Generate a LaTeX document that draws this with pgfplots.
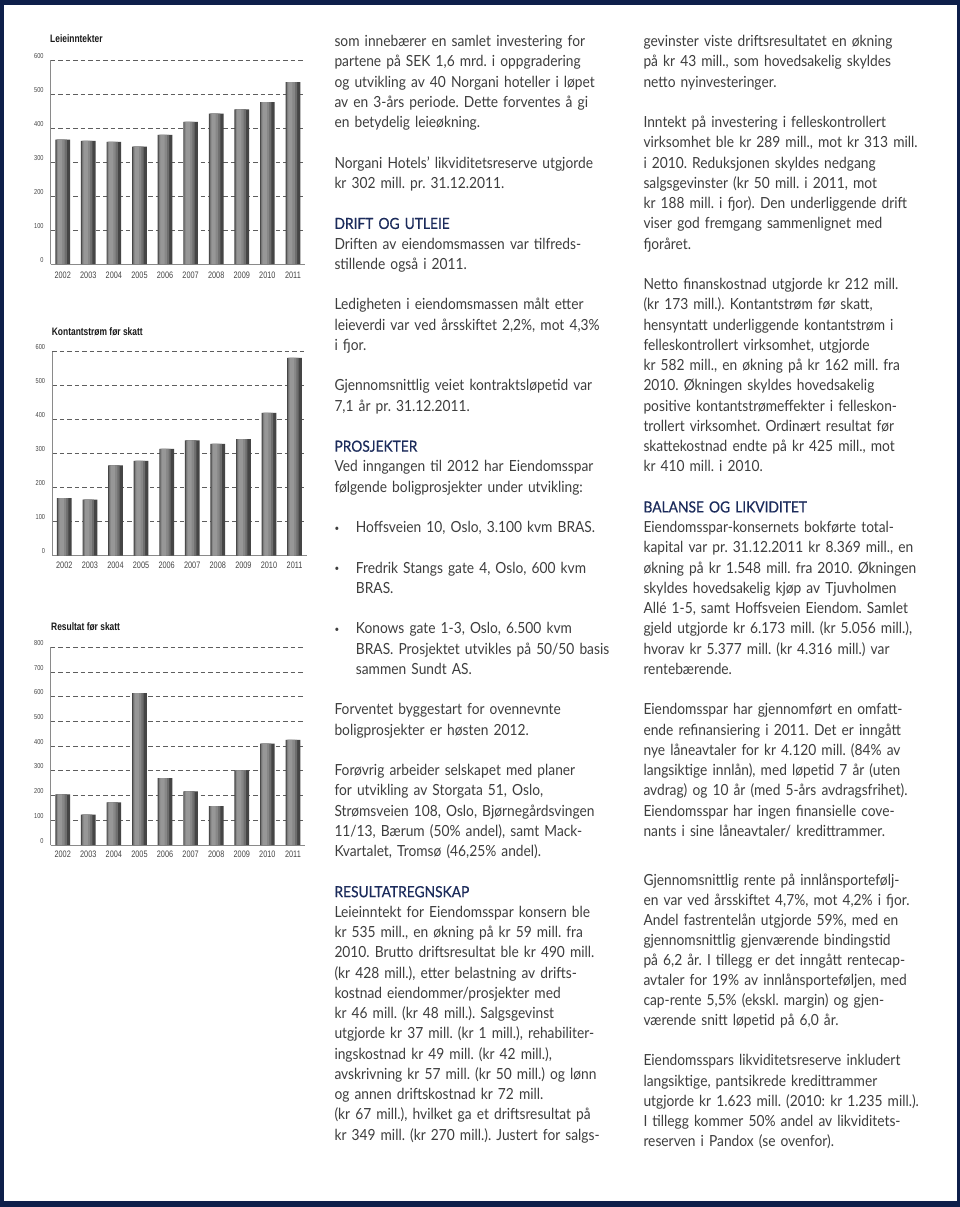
\documentclass[border=0pt]{standalone}
\usepackage{fontspec}
\usepackage{pgfplots}
\usepackage{pgfplotstable}
\pgfplotsset{compat=1.18}
\setmainfont{Lato}[FakeStretch=0.9]
\newfontfamily\chartfont{Liberation Sans}[FakeStretch=0.78]
\newfontfamily\headfont{Lato}[FakeStretch=0.9,FakeBold=0.5]
\frenchspacing
\definecolor{navy}{HTML}{0E1F4A}
\definecolor{txt}{HTML}{3E3E3E}
\definecolor{headc}{HTML}{1B2B5B}
\definecolor{gridc}{HTML}{5E5E5E}
\definecolor{axisc}{HTML}{8A8A8A}
\definecolor{lbl}{HTML}{454545}
\definecolor{bar0}{HTML}{454545}
\definecolor{bar1}{HTML}{6E6E6E}
\definecolor{bar2}{HTML}{878787}
\definecolor{bar3}{HTML}{979797}
\newcommand\bodyfont{\fontsize{15.3}{20.25}\selectfont\color{txt}}
\newcommand\hd[1]{{\headfont\color{headc}#1}}
\newcommand\bul{\makebox[21.4pt][l]{\raisebox{1.5pt}{\fontsize{9}{9}\selectfont •}}}

\pgfplotstableread{
x y
0 366
1 362
2 359
3 345
4 380
5 418
6 442
7 455
8 476
9 535
}\leie
\pgfplotstableread{
x y
0 169
1 165
2 266
3 279
4 314
5 339
6 329
7 343
8 420
9 582
}\kontant
\pgfplotstableread{
x y
0 205
1 123
2 173
3 615
4 271
5 217
6 157
7 302
8 410
9 425
}\resultat

\pgfplotsset{
  mybar/.style={
    scale only axis, width=254.3pt,
    xmin=-0.47, xmax=9.47, ymin=0,
    axis x line*=bottom, axis y line*=left,
    axis line style={draw=axisc, line width=0.7pt},
    ymajorgrids,
    grid style={draw=gridc, line width=0.8pt, dash pattern=on 4.5pt off 3pt},
    major tick length=0pt,
    xtick={0,1,2,3,4,5,6,7,8,9},
    xticklabels={2002,2003,2004,2005,2006,2007,2008,2009,2010,2011},
    tick label style={inner sep=0pt},
    xticklabel style={font=\chartfont\fontsize{9.4}{10}\selectfont, text=lbl, anchor=base},
    yticklabel style={font=\chartfont\fontsize{7.2}{8}\selectfont, text=lbl, anchor=base east, xshift=-7pt, yshift=2pt},
    /pgf/number format/assume math mode=true,
  },
  b0/.style={ybar, bar width=14.7pt, bar shift=0pt, fill=bar0, draw=none},
  b1/.style={ybar, bar width=10.5pt, bar shift=-1.2pt, fill=bar1, draw=none},
  b2/.style={ybar, bar width=7.5pt, bar shift=-1.9pt, fill=bar2, draw=none},
  b3/.style={ybar, bar width=4.2pt, bar shift=-2.6pt, fill=bar3, draw=none},
}
\newcommand\shadedbars[1]{%
  \addplot[b0] table[x=x,y=y]{#1};
  \addplot[b1] table[x=x,y=y]{#1};
  \addplot[b2] table[x=x,y=y]{#1};
  \addplot[b3] table[x=x,y=y]{#1};
}
\begin{document}
\begin{tikzpicture}[x=1pt,y=1pt]
\useasboundingbox (0,0) rectangle (960,-1207);
\fill[white] (0,0) rectangle (960,-1207);

% Chart 1
\begin{axis}[mybar, at={(50.7pt,-264pt)}, anchor=south west, height=204pt, ymax=600,
  ytick={0,100,200,300,400,500,600}, xticklabel style={yshift=-14.5pt}]
\shadedbars{\leie}
\end{axis}
\node[anchor=base west, inner sep=0, font=\chartfont\bfseries\fontsize{10.8}{12}\selectfont, text=black!90] at (50,-42.7) {Leieinntekter};

% Chart 2
\begin{axis}[mybar, at={(52.3pt,-555.7pt)}, anchor=south west, height=204pt, ymax=600,
  ytick={0,100,200,300,400,500,600}, xticklabel style={yshift=-12.8pt}]
\shadedbars{\kontant}
\end{axis}
\node[anchor=base west, inner sep=0, font=\chartfont\bfseries\fontsize{10.8}{12}\selectfont, text=black!90] at (51.7,-335) {Kontantstrøm før skatt};

% Chart 3
\begin{axis}[mybar, at={(50.7pt,-845pt)}, anchor=south west, height=197.7pt, ymax=800,
  ytick={0,100,200,300,400,500,600,700,800}, xticklabel style={yshift=-12.8pt}]
\shadedbars{\resultat}
\end{axis}
\node[anchor=base west, inner sep=0, font=\chartfont\bfseries\fontsize{10.8}{12}\selectfont, text=black!90] at (51,-630.7) {Resultat før skatt};

% Column 2
\node[anchor=base west, inner sep=0, text width=318pt, align=left, font=\bodyfont] at (334.3,-46.7) {%
som innebærer en samlet investering for\\
partene på SEK 1,6 mrd. i oppgradering\\
og utvikling av 40 Norgani hoteller i løpet\\
av en 3-års periode. Dette forventes å gi\\
en betydelig leieøkning.\\[20.25pt]
Norgani Hotels’ likviditetsreserve utgjorde\\
kr 302 mill. pr. 31.12.2011.\\[20.25pt]
\hd{DRIFT OG UTLEIE}\\
Driften av eiendomsmassen var tilfreds-\\
stillende også i 2011.\\[20.25pt]
Ledigheten i eiendomsmassen målt etter\\
leieverdi var ved årsskiftet 2,2\%, mot 4,3\%\\
i fjor.\\[20.25pt]
Gjennomsnittlig veiet kontraktsløpetid var\\
7,1 år pr. 31.12.2011.\\[20.25pt]
\hd{PROSJEKTER}\\
Ved inngangen til 2012 har Eiendomsspar\\
følgende boligprosjekter under utvikling:\\[20.25pt]
\bul Hoffsveien 10, Oslo, 3.100 kvm BRAS.\\[20.25pt]
\bul Fredrik Stangs gate 4, Oslo, 600 kvm\\
\hspace*{21.4pt}BRAS.\\[20.25pt]
\bul Konows gate 1-3, Oslo, 6.500 kvm\\
\hspace*{21.4pt}BRAS. Prosjektet utvikles på 50/50 basis\\
\hspace*{21.4pt}sammen Sundt AS.\\[20.25pt]
Forventet byggestart for ovennevnte\\
boligprosjekter er høsten 2012.\\[20.25pt]
Forøvrig arbeider selskapet med planer\\
for utvikling av Storgata 51, Oslo,\\
Strømsveien 108, Oslo, Bjørnegårdsvingen\\
11/13, Bærum (50\% andel), samt Mack-\\
Kvartalet, Tromsø (46,25\% andel).\\[20.25pt]
\hd{RESULTATREGNSKAP}\\
Leieinntekt for Eiendomsspar konsern ble\\
kr 535 mill., en økning på kr 59 mill. fra\\
2010. Brutto driftsresultat ble kr 490 mill.\\
(kr 428 mill.), etter belastning av drifts-\\
kostnad eiendommer/prosjekter med\\
kr 46 mill. (kr 48 mill.). Salgsgevinst\\
utgjorde kr 37 mill. (kr 1 mill.), rehabiliter-\\
ingskostnad kr 49 mill. (kr 42 mill.),\\
avskrivning kr 57 mill. (kr 50 mill.) og lønn\\
og annen driftskostnad kr 72 mill.\\
(kr 67 mill.), hvilket ga et driftsresultat på\\
kr 349 mill. (kr 270 mill.). Justert for salgs-};

% Column 3
\node[anchor=base west, inner sep=0, text width=310pt, align=left, font=\bodyfont] at (643.3,-46.7) {%
gevinster viste driftsresultatet en økning\\
på kr 43 mill., som hovedsakelig skyldes\\
netto nyinvesteringer.\\[20.25pt]
Inntekt på investering i felleskontrollert\\
virksomhet ble kr 289 mill., mot kr 313 mill.\\
i 2010. Reduksjonen skyldes nedgang\\
salgsgevinster (kr 50 mill. i 2011, mot\\
kr 188 mill. i fjor). Den underliggende drift\\
viser god fremgang sammenlignet med\\
fjoråret.\\[20.25pt]
Netto finanskostnad utgjorde kr 212 mill.\\
(kr 173 mill.). Kontantstrøm før skatt,\\
hensyntatt underliggende kontantstrøm i\\
felleskontrollert virksomhet, utgjorde\\
kr 582 mill., en økning på kr 162 mill. fra\\
2010. Økningen skyldes hovedsakelig\\
positive kontantstrømeffekter i felleskon-\\
trollert virksomhet. Ordinært resultat før\\
skattekostnad endte på kr 425 mill., mot\\
kr 410 mill. i 2010.\\[20.25pt]
\hd{BALANSE OG LIKVIDITET}\\
Eiendomsspar-konsernets bokførte total-\\
kapital var pr. 31.12.2011 kr 8.369 mill., en\\
økning på kr 1.548 mill. fra 2010. Økningen\\
skyldes hovedsakelig kjøp av Tjuvholmen\\
Allé 1-5, samt Hoffsveien Eiendom. Samlet\\
gjeld utgjorde kr 6.173 mill. (kr 5.056 mill.),\\
hvorav kr 5.377 mill. (kr 4.316 mill.) var\\
rentebærende.\\[20.25pt]
Eiendomsspar har gjennomført en omfatt-\\
ende refinansiering i 2011. Det er inngått\\
nye låneavtaler for kr 4.120 mill. (84\% av\\
langsiktige innlån), med løpetid 7 år (uten\\
avdrag) og 10 år (med 5-års avdragsfrihet).\\
Eiendomsspar har ingen finansielle cove-\\
nants i sine låneavtaler/ kredittrammer.};

\node[anchor=base west, inner sep=0, text width=310pt, align=left, font=\fontsize{15.3}{20.1}\selectfont\color{txt}] at (643.3,-885) {%
Gjennomsnittlig rente på innlånsportefølj-\\
en var ved årsskiftet 4,7\%, mot 4,2\% i fjor.\\
Andel fastrentelån utgjorde 59\%, med en\\
gjennomsnittlig gjenværende bindingstid\\
på 6,2 år. I tillegg er det inngått rentecap-\\
avtaler for 19\% av innlånsporteføljen, med\\
cap-rente 5,5\% (ekskl. margin) og gjen-\\
værende snitt løpetid på 6,0 år.\\[20.1pt]
Eiendomsspars likviditetsreserve inkludert\\
langsiktige, pantsikrede kredittrammer\\
utgjorde kr 1.623 mill. (2010: kr 1.235 mill.).\\
I tillegg kommer 50\% andel av likviditets-\\
reserven i Pandox (se ovenfor).};

% Frame
\fill[navy] (0,0) rectangle (960,-5);
\fill[navy] (0,-1201) rectangle (960,-1207);
\fill[navy] (0,0) rectangle (4,-1207);
\fill[navy] (957,0) rectangle (960,-1207);
\end{tikzpicture}
\end{document}
